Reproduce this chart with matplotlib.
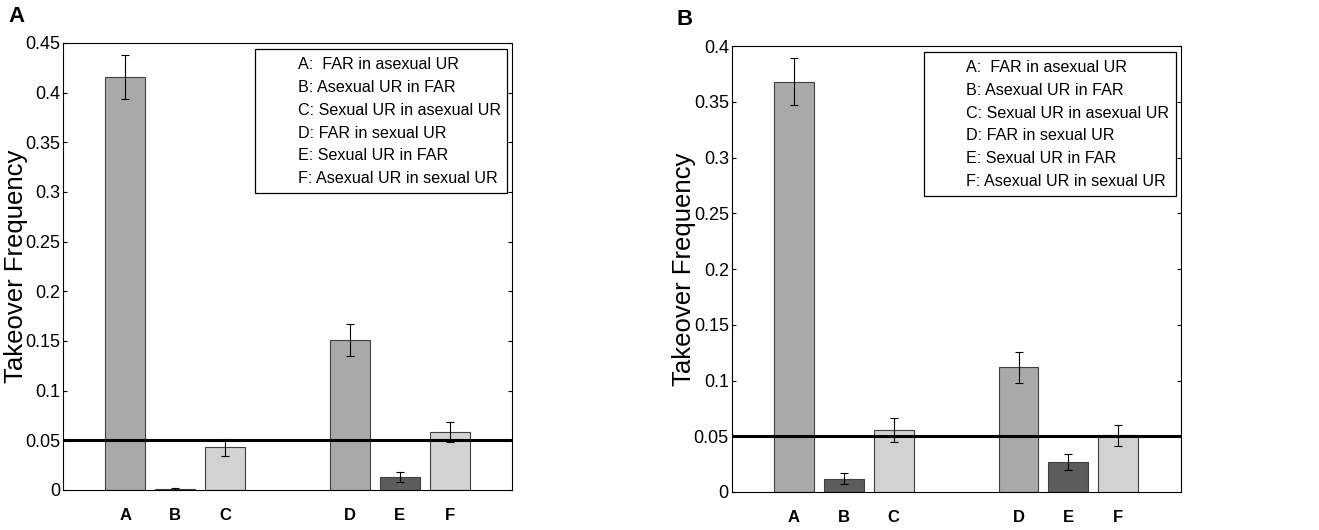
import matplotlib
matplotlib.use("Agg")
import matplotlib.pyplot as plt
from matplotlib.patches import Rectangle

plt.rcParams["font.family"] = ["Liberation Sans", "DejaVu Sans"]

# data
labels = ["A", "B", "C", "D", "E", "F"]
positions = [1, 2, 3, 5.5, 6.5, 7.5]
legend_lines = [
    "A:  FAR in asexual UR",
    "B: Asexual UR in FAR",
    "C: Sexual UR in asexual UR",
    "D: FAR in sexual UR",
    "E: Sexual UR in FAR",
    "F: Asexual UR in sexual UR",
]

freq_a = [0.416, 0.001, 0.043, 0.151, 0.013, 0.058]
err_a = [0.022, 0.0006, 0.0085, 0.016, 0.005, 0.010]
freq_b = [0.368, 0.012, 0.0555, 0.112, 0.027, 0.051]
err_b = [0.021, 0.005, 0.0105, 0.014, 0.007, 0.0095]

bar_colors = ["#a9a9a9", "#5c5c5c", "#d2d2d2", "#a9a9a9", "#5c5c5c", "#d2d2d2"]
threshold = 0.05


def draw_panel(ax, freq, err, ymax, yticks, ticklabels, letter):
    ax.bar(positions, freq, width=0.8, color=bar_colors, edgecolor="#404040",
           linewidth=0.8, zorder=2)
    ax.errorbar(positions, freq, yerr=err, fmt="none", ecolor="black",
                elinewidth=0.8, capsize=3, capthick=0.8, zorder=3)
    ax.axhline(threshold, color="black", linewidth=2.2, zorder=4)
    ax.set_xlim(-0.25, 8.75)
    ax.set_ylim(0, ymax)
    ax.set_yticks(yticks)
    ax.set_yticklabels(ticklabels, fontsize=13)
    ax.set_xticks(positions)
    ax.set_xticklabels(labels, fontsize=12, fontweight="bold")
    ax.tick_params(axis="x", length=0, pad=13)
    ax.tick_params(axis="y", direction="in", length=3, right=True, pad=2)
    ax.set_ylabel("Takeover Frequency", fontsize=18.5)
    ax.yaxis.set_label_coords(-0.079, 0.5)
    for s in ax.spines.values():
        s.set_linewidth(0.8)

    # legend box with plain text entries
    ax.add_patch(Rectangle((0.428, 0.664), 0.561, 0.323, transform=ax.transAxes,
                           facecolor="white", edgecolor="black", linewidth=0.9,
                           zorder=5))
    for i, line in enumerate(legend_lines):
        ax.text(0.523, 0.951 - i * 0.0508, line, transform=ax.transAxes,
                fontsize=11.6, va="center", ha="left", zorder=6)

    ax.text(-0.122, 1.06, letter, transform=ax.transAxes, fontsize=16,
            fontweight="bold", va="center", ha="left")


fig = plt.figure(figsize=(13.19, 5.30), dpi=100)
ax1 = fig.add_axes([0.0478, 0.0755, 0.3404, 0.8434])
ax2 = fig.add_axes([0.5547, 0.0717, 0.3404, 0.8415])

draw_panel(ax1, freq_a, err_a, 0.45,
           [0, 0.05, 0.1, 0.15, 0.2, 0.25, 0.3, 0.35, 0.4, 0.45],
           ["0", "0.05", "0.1", "0.15", "0.2", "0.25", "0.3", "0.35", "0.4", "0.45"], "A")
draw_panel(ax2, freq_b, err_b, 0.4,
           [0, 0.05, 0.1, 0.15, 0.2, 0.25, 0.3, 0.35, 0.4],
           ["0", "0.05", "0.1", "0.15", "0.2", "0.25", "0.3", "0.35", "0.4"], "B")

fig.savefig("out.png", dpi=100)
